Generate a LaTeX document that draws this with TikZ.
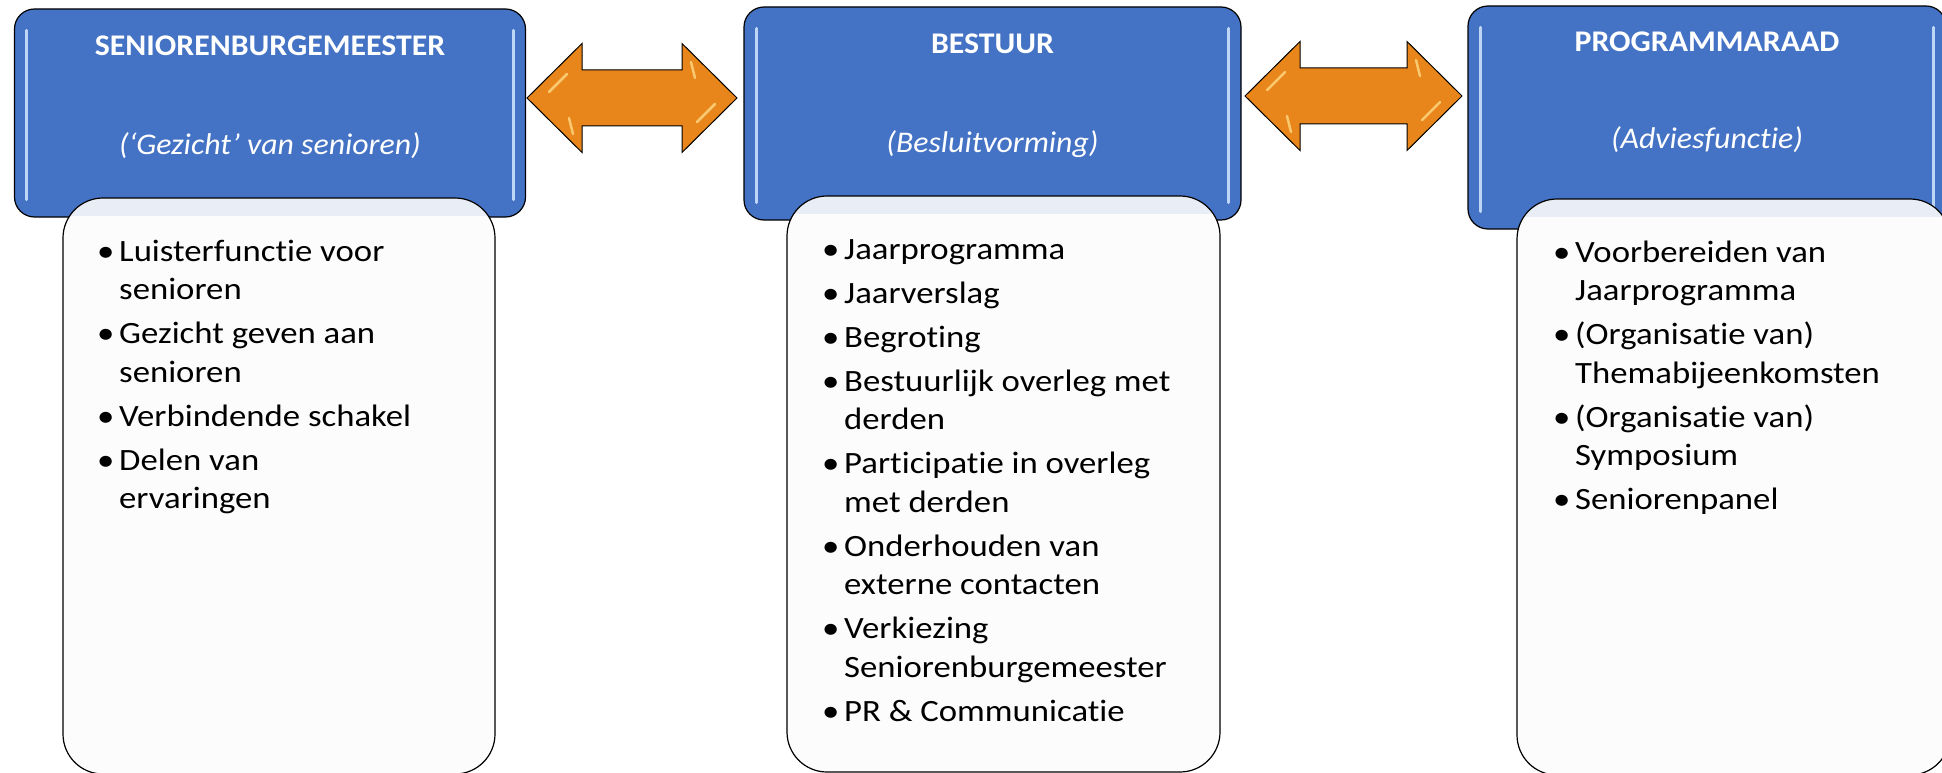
\documentclass[tikz,border=0pt]{standalone}
\usepackage{fontspec}
\setmainfont{Carlito}[FakeStretch=1.12, Ligatures=CommonOff]
\newfontfamily\kopfont{Carlito}[FakeStretch=1.06, Ligatures=CommonOff]
\definecolor{kopblauw}{RGB}{68,114,196}
\definecolor{glans}{RGB}{190,214,246}
\definecolor{oranje}{RGB}{232,134,28}
\definecolor{oranjeglans}{RGB}{250,200,110}
\definecolor{lijstband}{RGB}{233,237,245}
\definecolor{lijstvul}{RGB}{252,252,252}
\newcommand{\blt}{\makebox[22pt][l]{\textbullet}}
\begin{document}
\begin{tikzpicture}[x=1pt,y=-1pt,
    kop/.style={draw=black, line width=1.2pt, fill=kopblauw, rounded corners=20pt, inner sep=0pt},
    kopnaam/.style={text=white, font=\kopfont\bfseries\fontsize{30}{36}\selectfont, anchor=base, inner sep=0pt},
    koprol/.style={text=white, font=\kopfont\itshape\fontsize{30}{36}\selectfont, anchor=base, inner sep=0pt},
    lijst/.style={draw=black, line width=1.2pt, fill=lijstvul, rounded corners=40pt, inner sep=0pt,
      path picture={\fill[lijstband, sharp corners] (path picture bounding box.north west)
        rectangle ([yshift=-18pt]path picture bounding box.north east);}},
    punten/.style={anchor=base west, inner sep=0pt, font=\fontsize{31}{38.5}\selectfont},
    tweezijdig/.style={draw=black, line width=1pt, fill=oranje, line join=miter},
    pijlglans/.style={draw=oranjeglans, line width=2.5pt, line cap=round},
    glanslijn/.style={draw=glans, line width=3pt, line cap=round}]
  \useasboundingbox (0,0) rectangle (1942,773);
  \clip (0,0) rectangle (1942,773);
  % koppen
  \node[kop, minimum width=511pt, minimum height=208pt] (burg) at (270,113) {};
  \node[kop, minimum width=497pt, minimum height=213pt] (best) at (992.5,113.5) {};
  \node[kop, minimum width=478pt, minimum height=223pt] (prog) at (1707,117.5) {};
  \foreach \k in {burg,best,prog}
    {\draw[glanslijn] ([xshift=13pt,yshift=-22pt]\k.north west) -- ([xshift=13pt,yshift=18pt]\k.south west);
     \draw[glanslijn] ([xshift=-13pt,yshift=-22pt]\k.north east) -- ([xshift=-13pt,yshift=18pt]\k.south east);}
  \node[kopnaam] (burgnaam) at (270,56) {SENIORENBURGEMEESTER};
  \node[koprol] (burgrol) at (270,154) {(‘Gezicht’ van senioren)};
  \node[kopnaam] (bestnaam) at (992.5,54) {BESTUUR};
  \node[koprol] (bestrol) at (992.5,152) {(Besluitvorming)};
  \node[kopnaam] (prognaam) at (1707,52) {PROGRAMMARAAD};
  \node[koprol] (progrol) at (1707,148) {(Adviesfunctie)};
  % dubbele pijlen
  \foreach \xa/\xb/\yc in {527/737/98, 1245/1462/96}
    {\draw[tweezijdig] (\xa,\yc) -- (\xa+55,\yc-54.5) -- (\xa+55,\yc-28) -- (\xb-55,\yc-28)
      -- (\xb-55,\yc-54.5) -- (\xb,\yc) -- (\xb-55,\yc+54.5) -- (\xb-55,\yc+28)
      -- (\xa+55,\yc+28) -- (\xa+55,\yc+54.5) -- cycle;
     \draw[pijlglans] (\xa+22,\yc-6) -- (\xa+40,\yc-24);
     \draw[pijlglans] (\xa+42,\yc+20) -- (\xa+46,\yc+36);
     \draw[pijlglans] (\xb-46,\yc-36) -- (\xb-42,\yc-20);
     \draw[pijlglans] (\xb-22,\yc+6) -- (\xb-40,\yc+24);}
  % lijsten
  \node[lijst, minimum width=432pt, minimum height=576pt] (burglijst) at (279,486) {};
  \node[lijst, minimum width=433pt, minimum height=576pt] (bestlijst) at (1003.5,484) {};
  \node[lijst, minimum width=433pt, minimum height=576pt] (proglijst) at (1733.5,487) {};
  \node[punten] (burgpunten) at (97,261) {\begin{tabular}[t]{@{}l@{}l@{}}
    \blt & Luisterfunctie voor\\ & senioren\\[5.5pt]
    \blt & Gezicht geven aan\\ & senioren\\[5.5pt]
    \blt & Verbindende schakel\\[5.5pt]
    \blt & Delen van\\ & ervaringen
  \end{tabular}};
  \node[punten] (bestpunten) at (822,259) {\begin{tabular}[t]{@{}l@{}l@{}}
    \blt & Jaarprogramma\\[5.5pt]
    \blt & Jaarverslag\\[5.5pt]
    \blt & Begroting\\[5.5pt]
    \blt & Bestuurlijk overleg met\\ & derden\\[5.5pt]
    \blt & Participatie in overleg\\ & met derden\\[5.5pt]
    \blt & Onderhouden van\\ & externe contacten\\[5.5pt]
    \blt & Verkiezing\\ & Seniorenburgemeester\\[5.5pt]
    \blt & PR \& Communicatie
  \end{tabular}};
  \node[punten] (progpunten) at (1553,262) {\begin{tabular}[t]{@{}l@{}l@{}}
    \blt & Voorbereiden van\\ & Jaarprogramma\\[5.5pt]
    \blt & (Organisatie van)\\ & Themabijeenkomsten\\[5.5pt]
    \blt & (Organisatie van)\\ & Symposium\\[5.5pt]
    \blt & Seniorenpanel
  \end{tabular}};
\end{tikzpicture}
\end{document}
